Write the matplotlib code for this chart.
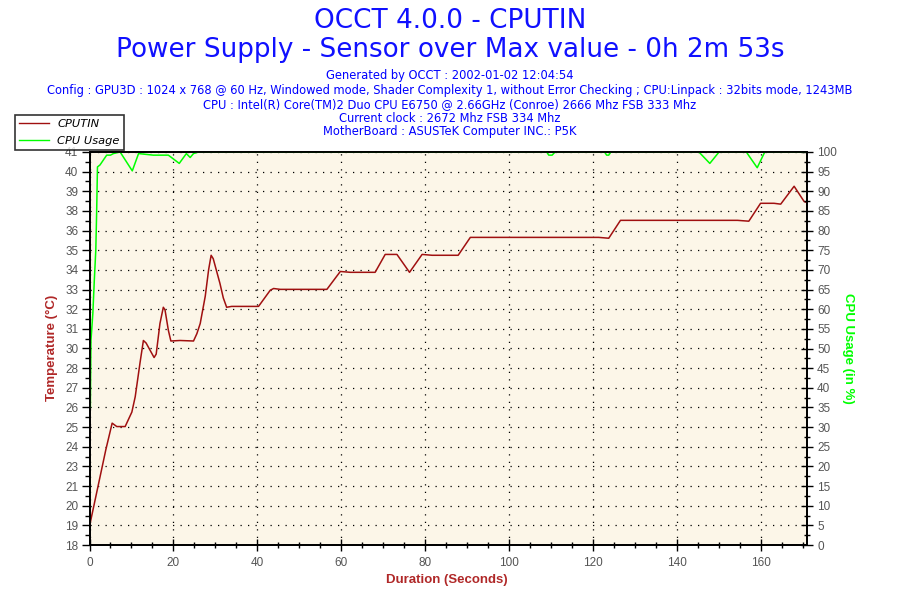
import numpy as np
import matplotlib
matplotlib.use("Agg")
import matplotlib.pyplot as plt
from matplotlib.ticker import FixedLocator, MultipleLocator
from matplotlib.lines import Line2D

# CPUTIN temperature (deg C)
cputin_t = [0, 3.9, 5.4, 6.5, 8.5, 10.1, 10.9, 12.05, 12.85, 13.5, 15.4, 15.9,
            16.8, 17.6, 18.0, 18.8, 19.4, 21.6, 24.8, 25.6, 26.4, 27.6, 28.4,
            29.0, 29.5, 31.1, 31.9, 32.7, 33.9, 40.3, 43.1, 43.9, 45.5, 56.6,
            59.8, 62.2, 68.1, 70.5, 73.3, 76.3, 79.3, 81.7, 87.9, 90.8, 121.4,
            123.8, 126.6, 154.5, 157.2, 160.0, 163.2, 164.8, 168.0, 170.4, 171.0]
cputin_temp = [19.1, 23.6, 25.15, 24.95, 24.95, 25.8, 26.7, 28.7, 30.0, 29.85,
               29.0, 29.2, 31.0, 31.95, 31.8, 30.6, 29.97, 30.0, 29.97, 30.4,
               31.0, 32.6, 34.15, 35.0, 34.8, 33.35, 32.5, 31.95, 32.0, 32.0,
               32.95, 33.05, 33.0, 33.0, 34.05, 34.0, 34.0, 35.05, 35.05, 34.0,
               35.05, 35.0, 35.0, 36.05, 36.05, 36.0, 37.05, 37.05, 37.0, 38.05,
               38.05, 38.0, 39.05, 38.15, 38.1]

# CPU usage (%)
usage_t = [0.2, 0.35, 0.8, 1.15, 1.5, 1.7, 1.9, 2.5, 4.1, 5.0, 5.7, 7.3, 10.2,
           11.7, 15.2, 16.8, 18.8, 21.4, 23.1, 24.0, 24.8, 26, 109, 109.5,
           110.3, 111, 122.8, 123.3, 123.8, 124.3, 145.3, 147.9, 150.1, 156.6,
           159.2, 161.0, 171]
usage_pct = [35, 52, 59, 67.4, 75, 84.4, 96.2, 96.7, 99.2, 99.2, 99.6, 100,
             95.2, 99.6, 99.2, 99.2, 99.2, 97.1, 99.6, 98.6, 99.6, 100, 100,
             99.2, 99.2, 100, 100, 99.2, 99.2, 100, 100, 97.1, 100, 100,
             96.0, 100, 100]

temp_tick_labels = ['18', '19', '20', '21', '23', '24', '25', '26', '27', '28',
                    '30', '31', '32', '33', '34', '35', '36', '38', '39', '40',
                    '41']

title_lines = ["OCCT 4.0.0 - CPUTIN",
               "Power Supply - Sensor over Max value - 0h 2m 53s"]
info_lines = ["Generated by OCCT : 2002-01-02 12:04:54",
              "Config : GPU3D : 1024 x 768 @ 60 Hz, Windowed mode, Shader Complexity 1, "
              "without Error Checking ; CPU:Linpack : 32bits mode, 1243MB",
              "CPU : Intel(R) Core(TM)2 Duo CPU E6750 @ 2.66GHz (Conroe) 2666 Mhz FSB 333 Mhz",
              "Current clock : 2672 Mhz FSB 334 Mhz",
              "MotherBoard : ASUSTeK Computer INC.: P5K"]

W, H = 900, 600
red = '#a01010'
green = '#00ff00'
brown = '#b02828'
tick_grey = '#555555'

fig = plt.figure(figsize=(9, 6), dpi=100)
fig.patch.set_facecolor('white')

x0, x1, y0, y1 = 89.5, 806.7, 152, 545
ax = fig.add_axes([x0 / W, 1 - y1 / H, (x1 - x0) / W, (y1 - y0) / H])
ax.set_facecolor('#fcf6e8')

t_min, t_step = 18, 1.153
t_ticks = [t_min + i * t_step for i in range(21)]
ax.set_ylim(t_min, t_ticks[-1])
ax.set_xlim(0, 171)
ax.yaxis.set_major_locator(FixedLocator(t_ticks))
ax.set_yticklabels(temp_tick_labels)
ax.yaxis.set_minor_locator(FixedLocator([v + t_step / 2 for v in t_ticks[:-1]]))
ax.xaxis.set_major_locator(MultipleLocator(20))
ax.xaxis.set_minor_locator(MultipleLocator(5))

ax.grid(True, which='major', color='black', linestyle=(0, (1, 5)), linewidth=0.9)
ax.plot(cputin_t, cputin_temp, color=red, linewidth=1.1, zorder=3)

for s in ax.spines.values():
    s.set_color('black')
    s.set_linewidth(1.3)

ax.tick_params(axis='y', which='major', direction='out', length=6, width=1,
               colors='black', labelcolor=tick_grey, labelsize=8.5, pad=2)
ax.tick_params(axis='y', which='minor', direction='out', length=3.5, width=1)
ax.tick_params(axis='x', which='major', direction='inout', length=9, width=1,
               labelcolor=tick_grey, labelsize=8.5, pad=4)
ax.tick_params(axis='x', which='minor', direction='inout', length=5, width=1)
for lab in ax.get_xticklabels() + ax.get_yticklabels():
    lab.set_family('Liberation Sans')

ax2 = ax.twinx()
ax2.set_ylim(0, 100)
ax2.yaxis.set_major_locator(MultipleLocator(5))
ax2.yaxis.set_minor_locator(MultipleLocator(2.5))
ax2.plot(usage_t, usage_pct, color=green, linewidth=1.1, zorder=2)
ax2.tick_params(axis='y', which='major', direction='inout', length=9, width=1,
                labelcolor=tick_grey, labelsize=8.5, pad=3)
ax2.tick_params(axis='y', which='minor', direction='inout', length=5, width=1)
for lab in ax2.get_yticklabels():
    lab.set_family('Liberation Sans')
for s in ax2.spines.values():
    s.set_color('black')
    s.set_linewidth(1.3)

# titles
fig.text(0.5, 1 - 21 / H, title_lines[0], ha='center', va='center',
         fontsize=18.9, color='#1010ff', family='DejaVu Sans')
fig.text(0.5, 1 - 50 / H, title_lines[1], ha='center', va='center',
         fontsize=18.9, color='#1010ff', family='DejaVu Sans')
for yy, txt in zip([76, 91, 105, 119, 132], info_lines):
    fig.text(0.5, 1 - yy / H, txt, ha='center', va='center',
             fontsize=8.3, color='#0000ff', family='DejaVu Sans')

fig.text(447 / W, 1 - 580 / H, "Duration (Seconds)", ha='center', va='center',
         fontsize=9.5, fontweight='bold', color=brown, family='Liberation Sans')
fig.text(52 / W, 1 - 348 / H, "Temperature (°C)", ha='center', va='center',
         rotation=90, fontsize=9.5, fontweight='bold', color=brown,
         family='Liberation Sans')
fig.text(848 / W, 1 - 348 / H, "CPU Usage (in %)", ha='center', va='center',
         rotation=270, fontsize=9.5, fontweight='bold', color=green,
         family='Liberation Sans')

handles = [Line2D([], [], color=red, linewidth=1),
           Line2D([], [], color=green, linewidth=1)]
leg = fig.legend(handles, ["CPUTIN", "CPU Usage"], loc='upper left',
                 bbox_to_anchor=(15 / W, 1 - 115 / H), frameon=True,
                 fancybox=False, borderpad=0.35, handlelength=2.65,
                 handletextpad=0.7, labelspacing=0.65, borderaxespad=0,
                 prop={'family': 'DejaVu Sans', 'style': 'italic', 'size': 8.2})
leg.get_frame().set_edgecolor('black')
leg.get_frame().set_linewidth(1.2)

fig.savefig("out.png", dpi=100)
